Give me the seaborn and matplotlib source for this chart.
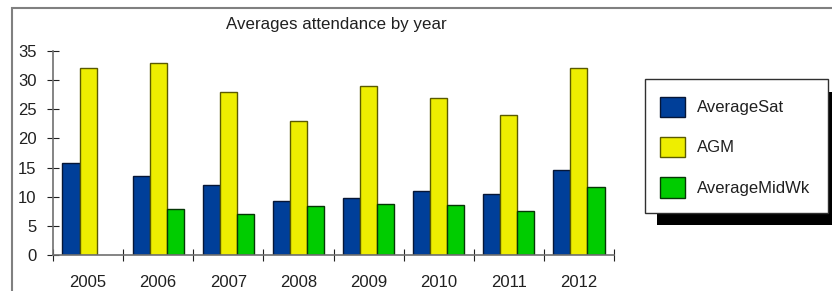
import numpy as np
import pandas as pd
import matplotlib
matplotlib.use("Agg")
import matplotlib.pyplot as plt
from matplotlib.patches import Rectangle, Patch
import seaborn as sns

years = ["2005", "2006", "2007", "2008", "2009", "2010", "2011", "2012"]
average_sat = [15.7, 13.5, 12.0, 9.2, 9.7, 10.9, 10.4, 14.5]
agm = [32, 33, 28, 23, 29, 27, 24, 32]
average_midwk = [np.nan, 7.9, 7.0, 8.4, 8.7, 8.5, 7.5, 11.6]
series_names = ["AverageSat", "AGM", "AverageMidWk"]
y_ticks = [0, 5, 10, 15, 20, 25, 30, 35]
title = "Averages attendance by year"

fill_colors = ["#003F99", "#EEEE00", "#00CC00"]
edge_colors = ["#061636", "#5a5a00", "#063606"]

df = pd.DataFrame({
    "Year": years * 3,
    "Series": sum([[n] * len(years) for n in series_names], []),
    "Value": average_sat + agm + average_midwk,
})

sns.set_theme(style="white")
plt.rcParams["font.family"] = ["Liberation Sans", "DejaVu Sans"]

fig = plt.figure(figsize=(8.32, 2.91), dpi=100)
W, H = 832, 291
ax = fig.add_axes([53 / W, 1 - 255 / H, (614 - 53) / W, (255 - 51) / H])

sns.barplot(data=df, x="Year", y="Value", hue="Series", order=years,
            hue_order=series_names, palette=fill_colors, width=0.73,
            gap=0, ax=ax, legend=False, saturation=1)

for cont, ec in zip(ax.containers, edge_colors):
    for bar in cont:
        bar.set_edgecolor(ec)
        bar.set_linewidth(1.0)

ax.set_xlim(-0.5, len(years) - 0.5)
ax.set_ylim(0, 35)
ax.set_yticks(y_ticks)
ax.set_yticklabels([str(t) for t in y_ticks])
ax.set_xticks(np.arange(len(years) + 1) - 0.5)
ax.set_xticklabels([""] * (len(years) + 1))
ax.set_xticks(np.arange(len(years)), minor=True)
ax.set_xticklabels(years, minor=True)
ax.tick_params(axis="x", which="major", direction="inout", length=8.6,
               width=0.8, color="#202020", bottom=True)
ax.tick_params(axis="x", which="minor", length=0, pad=14.5, labelsize=12,
               colors="#202020", bottom=True)
ax.tick_params(axis="y", which="major", direction="inout", length=8.6,
               width=0.8, color="#202020", pad=7.5, labelsize=12,
               labelcolor="#202020", left=True)
ax.set_xlabel("")
ax.set_ylabel("")
ax.grid(False)
for s in ["top", "right"]:
    ax.spines[s].set_visible(False)
for s in ["left", "bottom"]:
    ax.spines[s].set_color("#707070")
    ax.spines[s].set_linewidth(1.2)

fig.text(336 / W, 1 - 25 / H, title, ha="center", va="center",
         fontsize=12.2, color="#202020")

# outer frame
fig.patches.append(Rectangle((12 / W, -0.1), 1.1, 1 - 8 / H + 0.1,
                             transform=fig.transFigure, fill=False,
                             edgecolor="#808080", linewidth=1.5, zorder=0))

# legend box with shadow
fig.patches.append(Rectangle((657 / W, 1 - 225 / H), (840 - 657) / W,
                             (225 - 92) / H, transform=fig.transFigure,
                             facecolor="black", edgecolor="none", zorder=1))
fig.patches.append(Rectangle((645 / W, 1 - 213 / H), (828 - 645) / W,
                             (213 - 79) / H, transform=fig.transFigure,
                             facecolor="white", edgecolor="#303030",
                             linewidth=1.0, zorder=2))

handles = [Patch(facecolor=fc, edgecolor=ec, linewidth=1.0)
           for fc, ec in zip(fill_colors, edge_colors)]
leg = fig.legend(handles, series_names, loc="center left",
                 bbox_to_anchor=(660 / W, 1 - 147 / H), frameon=False,
                 fontsize=12, handlelength=1.5, handleheight=1.5,
                 labelspacing=1.2, handletextpad=0.72, borderpad=0,
                 borderaxespad=0)
for t in leg.get_texts():
    t.set_color("#202020")
leg.set_zorder(3)

fig.savefig("out.png", dpi=100)
